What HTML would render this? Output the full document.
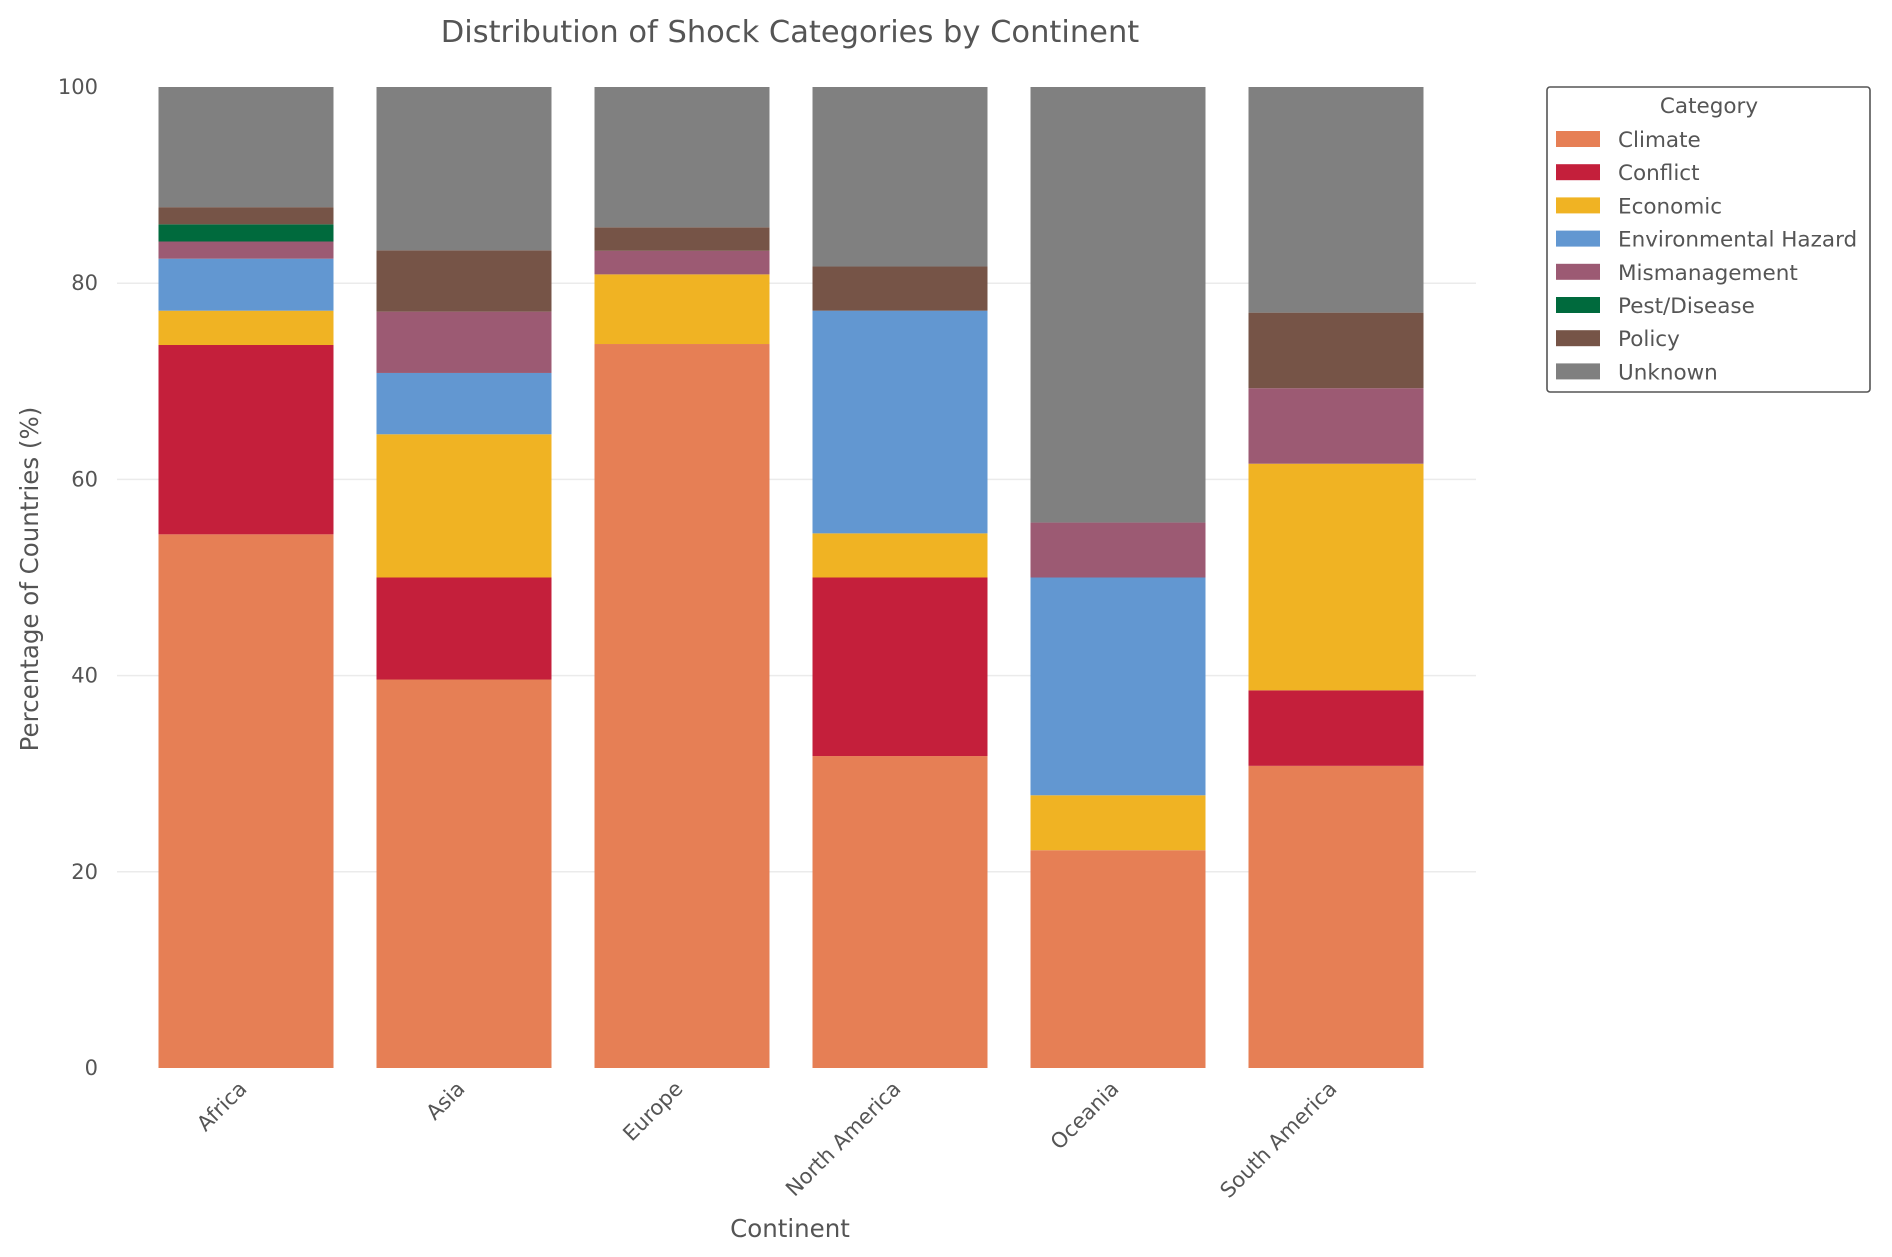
<!DOCTYPE html>
<html><head><meta charset="utf-8"><style>
html,body{margin:0;padding:0;background:#fff;}
svg{display:block;font-family:"DejaVu Sans","Liberation Sans",sans-serif;}
</style></head><body>
<svg id="chart" width="1892" height="1257" viewBox="0 0 1892 1257" xmlns="http://www.w3.org/2000/svg">
<text x="790" y="42" text-anchor="middle" font-size="30.5" fill="#555">Distribution of Shock Categories by Continent</text>
<g id="grid"></g>
<g id="bars"></g>
<g id="yticks"></g>
<g id="xticks"></g>
<text transform="translate(38,579) rotate(-90)" text-anchor="middle" font-size="24.5" fill="#555">Percentage of Countries (%)</text>
<text x="790" y="1237" text-anchor="middle" font-size="24.5" fill="#555">Continent</text>
<g id="legend">
<rect x="1547" y="87" width="323" height="305" rx="3" fill="#fff" stroke="#555" stroke-width="1.6"/>
<text x="1709" y="113" text-anchor="middle" font-size="21.5" fill="#555">Category</text>
</g>
</svg>
<script>
const continents = ["Africa","Asia","Europe","North America","Oceania","South America"];
const categories = ["Climate","Conflict","Economic","Environmental Hazard","Mismanagement","Pest/Disease","Policy","Unknown"];
const colors = ["#e67f55","#c41f3b","#f0b323","#6297d1","#9c5a73","#006a3d","#765447","#808080"];
const climate = [54.4,39.6,73.8,31.8,22.2,30.8];
const conflict = [19.3,10.4,0,18.2,0,7.7];
const economic = [3.5,14.6,7.1,4.5,5.6,23.1];
const envHazard = [5.3,6.25,0,22.7,22.2,0];
const mismanagement = [1.75,6.25,2.4,0,5.6,7.7];
const pestDisease = [1.75,0,0,0,0,0];
const policy = [1.75,6.25,2.4,4.5,0,7.7];
const unknown = [12.25,16.65,14.3,18.3,44.4,23.0];
const yTicks = [0,20,40,60,80,100];

const series = [climate,conflict,economic,envHazard,mismanagement,pestDisease,policy,unknown];
const NS = "http://www.w3.org/2000/svg";
const y0 = 1068, y100 = 87, xL = 117, xR = 1476;
const yScale = v => y0 - (v/100)*(y0-y100);
const xCenter = i => 246 + i*218;
const barW = 175;
function mk(tag, attrs, parent){const e=document.createElementNS(NS,tag);for(const k in attrs)e.setAttribute(k,attrs[k]);parent.appendChild(e);return e;}

const grid = document.getElementById('grid');
const yt = document.getElementById('yticks');
yTicks.forEach(t=>{
  if(t>0 && t<100){
    const l = mk('line',{x1:xL,x2:xR,y1:yScale(t),y2:yScale(t),stroke:'#ebebeb','stroke-width':1.5},grid);
    
    
  }
  const tx = mk('text',{x:98,y:yScale(t)+7,'text-anchor':'end','font-size':21,fill:'#555'},yt);
  tx.textContent = t;
  
  
});

const bars = document.getElementById('bars');
continents.forEach((c,i)=>{
  let cum = 0;
  series.forEach((s,k)=>{
    const v = s[i];
    if(v<=0) return;
    const top = yScale(Math.min(cum+v,100)), bot = yScale(cum);
    const r = mk('rect',{x:xCenter(i)-barW/2,y:top,width:barW,height:bot-top,fill:colors[k]},bars);
    
    
    cum += v;
  });
});

const xt = document.getElementById('xticks');
continents.forEach((c,i)=>{
  const tx = mk('text',{transform:`translate(${xCenter(i)+2},${y0+22}) rotate(-45)`,'text-anchor':'end','font-size':21,fill:'#555'},xt);
  tx.textContent = c;
  
  
});

const lg = document.getElementById('legend');
categories.forEach((c,k)=>{
  const y = 139 + k*33.2;
  const g = mk('g',{},lg);
  
  
  mk('rect',{x:1556,y:y-8,width:44,height:16,fill:colors[k]},g);
  const t = mk('text',{x:1618,y:y+8,'font-size':21.5,fill:'#555'},g);
  t.textContent = c;
});
</script>
</body></html>
